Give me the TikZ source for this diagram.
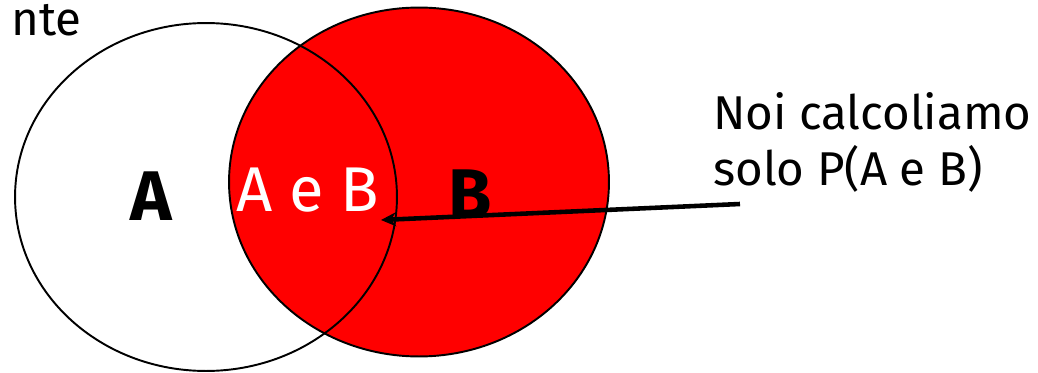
\documentclass[tikz,border=0pt]{standalone}
\usepackage{fontspec}
\setmainfont{Fira Sans}
\usetikzlibrary{arrows.meta}
\definecolor{setred}{RGB}{255,0,0}

\begin{document}
\begin{tikzpicture}[x=0.02cm, y=-0.02cm,
    setA/.style={draw=black, line width=1.1pt},
    setB/.style={draw=black, line width=1.1pt, fill=setred},
    biglbl/.style={font=\fontsize{40}{44}\selectfont\bfseries, inner sep=0pt},
    midlbl/.style={font=\fontsize{36}{40}\selectfont, text=white, inner sep=0pt},
    note/.style={font=\fontsize{27}{32}\selectfont, align=left, inner sep=0pt},
    arr/.style={-{Stealth[length=3mm, width=2.8mm]}, line width=2.6pt}]
  \useasboundingbox (0,0) rectangle (1038,372);
  % the two sets
  \path[setB] (419,182) ellipse [x radius=3.8cm, y radius=3.49cm];
  \path[setA] (206,197) ellipse [x radius=3.82cm, y radius=3.48cm];
  % labels
  \node[note, anchor=base east] (nte) at (82,35) {nte};
  \node[biglbl] (labA) at (151,196) {A};
  \node[midlbl] (labAB) at (308,190) {A e B};
  \node[biglbl] (labB) at (470,194) {B};
  \node[note, anchor=north west] (note) at (713,92) {Noi calcoliamo\\solo P(A e B)};
  % arrow to the intersection
  \coordinate (tail) at (740,204);
  \coordinate (tip) at (381,220);
  \draw[arr] (tail) -- (tip);
\end{tikzpicture}
\end{document}
